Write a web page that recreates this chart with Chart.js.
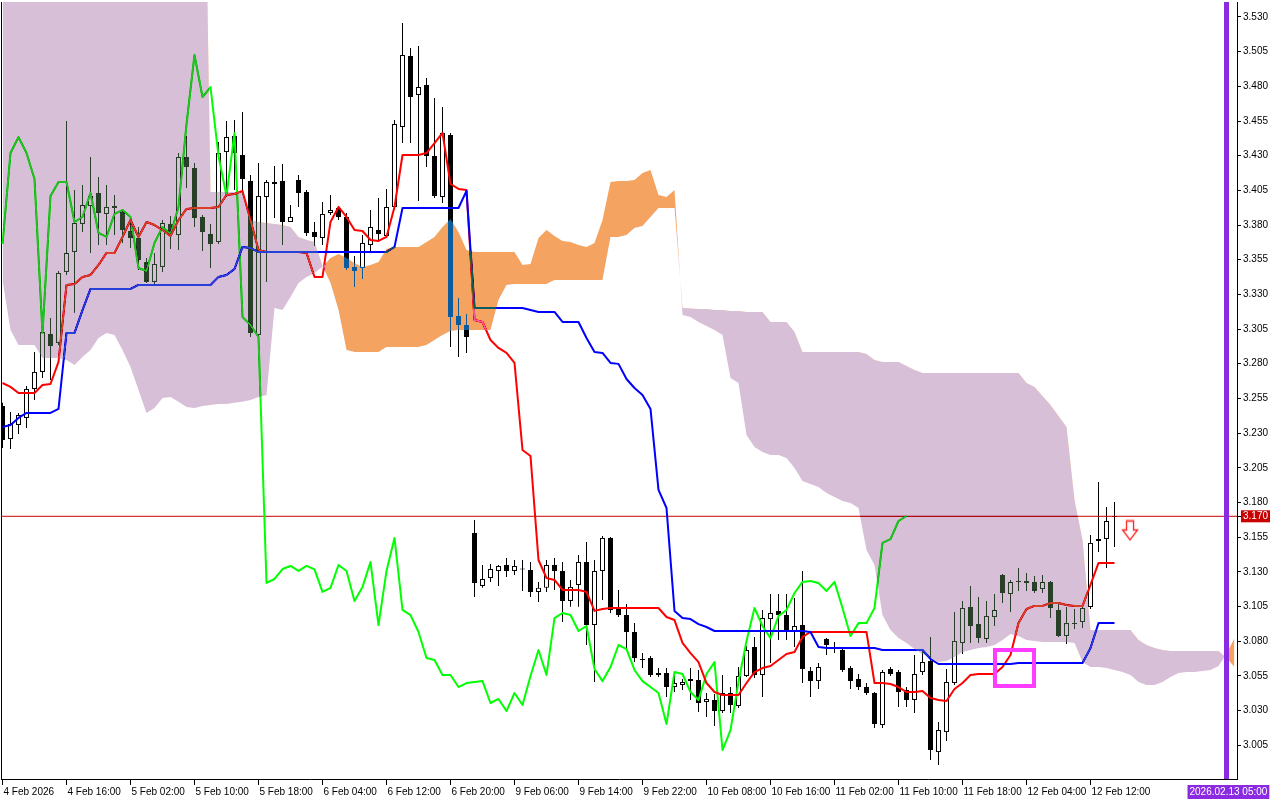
<!DOCTYPE html>
<html lang="en">
<head>
<meta charset="UTF-8">
<title>Ichimoku H1</title>
<script src="https://cdn.jsdelivr.net/npm/chart.js@4.4.1/dist/chart.umd.min.js"></script>
<style>
  html, body { margin: 0; padding: 0; background: #fff; }
  #wrap { width: 1280px; height: 800px; }
</style>
</head>
<body>
<div id="wrap"><canvas id="grafico" width="1280" height="800"></canvas></div>
<script>
// H1 candles, bar index 0 = 4 Feb 2026 08:00
const open = [3.2496,3.2257,3.2358,3.2409,3.2618,3.2741,3.3014,3.2950,3.3462,3.3606,
  3.3808,3.3937,3.4031,3.3880,3.3937,3.3894,3.3757,3.3707,3.3533,3.3390,
  3.3498,3.3808,3.3728,3.4290,3.4211,3.3858,3.3735,3.3678,3.4326,3.4442,
  3.4305,3.4118,3.3007,3.4002,3.4096,3.4118,3.3822,3.4125,3.4038,3.3750,
  3.3707,3.3887,3.3923,3.3858,3.3498,3.3490,3.3656,3.3764,3.3721,3.3930,
  3.4507,3.5019,3.4738,3.4810,3.4298,3.4002,3.4449,3.3144,3.3079,3.1580,
  3.1198,3.1255,3.1306,3.1349,3.1306,3.1320,3.1313,3.1155,3.1184,3.1349,
  3.1306,3.1090,3.1205,3.1371,3.0916,3.1306,3.1544,3.1032,3.0988,3.0866,
  3.0671,3.0678,3.0570,3.0570,3.0469,3.0484,3.0527,3.0520,3.0361,3.0376,
  3.0296,3.0426,3.0332,3.0549,3.0758,3.0556,3.0959,3.1018,3.0988,3.0873,
  3.0916,3.0585,3.0512,3.0815,3.0758,3.0736,3.0606,3.0527,3.0469,3.0426,
  3.0195,3.0599,3.0577,3.0448,3.0376,3.0577,3.0657,3.0000,3.0144,3.0498,
  3.0787,3.1046,3.0923,3.0815,3.0974,3.1277,3.1140,3.1227,3.1234,3.1227,
  3.1176,3.1227,3.1025,3.0837,3.0923,3.0938,3.1046,3.1522,3.1536,3.1695];
const high = [3.2518,3.2452,3.2445,3.2640,3.2885,3.3043,3.3130,3.3469,3.4550,3.4053,
  3.4089,3.4291,3.4146,3.4089,3.4017,3.3908,3.3851,3.3786,3.3562,3.3599,
  3.3836,3.3865,3.4319,3.4442,3.4247,3.3872,3.3808,3.4398,3.4550,3.4557,
  3.4615,3.4161,3.4247,3.4125,3.4226,3.4240,3.3944,3.4161,3.4053,3.3822,
  3.3966,3.4017,3.3937,3.3887,3.3577,3.3728,3.3908,3.3995,3.4060,3.4557,
  3.5257,3.5077,3.5091,3.4860,3.4716,3.4651,3.4464,3.3274,3.3159,3.1673,
  3.1349,3.1356,3.1349,3.1400,3.1385,3.1385,3.1371,3.1227,3.1385,3.1400,
  3.1371,3.1241,3.1421,3.1515,3.1385,3.1558,3.1551,3.1169,3.1068,3.0930,
  3.0714,3.0693,3.0606,3.0606,3.0577,3.0527,3.0606,3.0592,3.0426,3.0419,
  3.0556,3.0469,3.0613,3.0765,3.0830,3.1025,3.1140,3.1140,3.1140,3.1111,
  3.1306,3.0613,3.0642,3.0822,3.0794,3.0758,3.0621,3.0563,3.0498,3.0433,
  3.0592,3.0613,3.0592,3.0469,3.0700,3.0736,3.0830,3.0217,3.0599,3.1010,
  3.1090,3.1198,3.1118,3.1090,3.1140,3.1284,3.1241,3.1327,3.1291,3.1270,
  3.1277,3.1234,3.1083,3.1046,3.1032,3.1054,3.1565,3.1947,3.1767,3.1803];
const low = [3.2192,3.2185,3.2293,3.2337,3.2539,3.2697,3.2683,3.2935,3.3440,3.3170,
  3.3750,3.3599,3.3656,3.3656,3.3728,3.3671,3.3634,3.3476,3.3382,3.3375,
  3.3462,3.3627,3.3620,3.4067,3.3786,3.3613,3.3490,3.3663,3.4038,3.4053,
  3.4017,3.2993,3.2986,3.3390,3.3851,3.3656,3.3822,3.3930,3.3721,3.3649,
  3.3656,3.3872,3.3836,3.3476,3.3353,3.3411,3.3613,3.3678,3.3707,3.3908,
  3.4391,3.4391,3.3974,3.4218,3.3995,3.3959,3.2921,3.2849,3.2878,3.1119,
  3.1184,3.1227,3.1198,3.1263,3.1277,3.1162,3.1119,3.1083,3.1155,3.1169,
  3.0938,3.1047,3.1047,3.0772,3.0505,3.1097,3.1003,3.0974,3.0736,3.0649,
  3.0606,3.0541,3.0541,3.0397,3.0433,3.0448,3.0376,3.0289,3.0253,3.0188,
  3.0282,3.0282,3.0318,3.0542,3.0534,3.0397,3.0642,3.0808,3.0808,3.0758,
  3.0498,3.0397,3.0455,3.0700,3.0714,3.0577,3.0455,3.0448,3.0412,3.0173,
  3.0173,3.0549,3.0325,3.0325,3.0282,3.0556,2.9943,2.9907,3.0080,3.0484,
  3.0707,3.0787,3.0787,3.0787,3.0909,3.1075,3.1010,3.1162,3.1162,3.1147,
  3.1147,3.0966,3.0830,3.0779,3.0887,3.0894,3.1032,3.1443,3.1327,3.1479];
const close = [3.2250,3.2365,3.2430,3.2618,3.2741,3.3029,3.2928,3.3454,3.3599,3.3815,
  3.3945,3.4010,3.3887,3.3930,3.3923,3.3764,3.3707,3.3548,3.3390,3.3519,
  3.3815,3.3750,3.4290,3.4218,3.3851,3.3750,3.3663,3.4319,3.4434,3.4319,
  3.4132,3.3021,3.4010,3.4110,3.4110,3.3822,3.3858,3.4031,3.3743,3.3714,
  3.3880,3.3908,3.3858,3.3490,3.3469,3.3671,3.3786,3.3735,3.3930,3.4528,
  3.5026,3.4723,3.4795,3.4298,3.4010,3.4464,3.3137,3.3079,3.2993,3.1220,
  3.1248,3.1320,3.1342,3.1306,3.1342,3.1317,3.1155,3.1184,3.1349,3.1306,
  3.1090,3.1191,3.1371,3.0916,3.1306,3.1544,3.1025,3.0988,3.0866,3.0678,
  3.0664,3.0556,3.0556,3.0469,3.0498,3.0505,3.0512,3.0354,3.0383,3.0296,
  3.0426,3.0340,3.0549,3.0736,3.0556,3.0966,3.1003,3.0988,3.0873,3.0909,
  3.0599,3.0512,3.0613,3.0772,3.0743,3.0592,3.0512,3.0469,3.0426,3.0202,
  3.0577,3.0563,3.0433,3.0376,3.0563,3.0649,3.0015,3.0159,3.0505,3.0801,
  3.1039,3.0909,3.0822,3.0981,3.1025,3.1147,3.1227,3.1234,3.1219,3.1162,
  3.1227,3.1039,3.0837,3.0930,3.0930,3.1039,3.1508,3.1536,3.1666,3.1702];

// ichimoku lines
const tenkan = [3.2661,3.2633,3.2589,3.2589,3.2589,3.2647,3.2654,3.2813,3.3368,3.3375,
  3.3426,3.3440,3.3512,3.3599,3.3599,3.3714,3.3836,3.3714,3.3822,3.3800,
  3.3764,3.3721,3.3836,3.3916,3.3923,3.3923,3.3923,3.3930,3.4017,3.4024,
  3.4046,3.3836,3.3620,3.3606,3.3606,3.3606,3.3606,3.3606,3.3599,3.3426,
  3.3426,3.3822,3.3930,3.3858,3.3764,3.3757,3.3692,3.3685,3.3714,3.3930,
  3.4305,3.4305,3.4305,3.4319,3.4391,3.4464,3.4096,3.4060,3.4053,3.3115,
  3.3101,3.2971,3.2914,3.2878,3.2806,3.2178,3.2135,3.1385,3.1255,3.1241,
  3.1169,3.1169,3.1169,3.1155,3.1018,3.1032,3.1039,3.1039,3.1039,3.1039,
  3.1039,3.1039,3.1039,3.0974,3.0952,3.0787,3.0714,3.0649,3.0498,3.0433,
  3.0412,3.0412,3.0412,3.0498,3.0577,3.0606,3.0621,3.0664,3.0707,3.0721,
  3.0830,3.0866,3.0866,3.0866,3.0866,3.0866,3.0866,3.0866,3.0866,3.0498,
  3.0498,3.0491,3.0469,3.0433,3.0433,3.0441,3.0390,3.0376,3.0368,3.0455,
  3.0498,3.0556,3.0563,3.0563,3.0563,3.0613,3.0700,3.0930,3.1032,3.1054,
  3.1054,3.1075,3.1075,3.1061,3.1054,3.1054,3.1205,3.1364,3.1364,3.1364];
const kijun = [3.2344,3.2358,3.2409,3.2445,3.2445,3.2445,3.2445,3.2474,3.3022,3.3022,
  3.3187,3.3339,3.3339,3.3339,3.3339,3.3339,3.3339,3.3368,3.3368,3.3368,
  3.3368,3.3368,3.3368,3.3368,3.3368,3.3368,3.3368,3.3426,3.3440,3.3483,
  3.3642,3.3634,3.3606,3.3606,3.3606,3.3606,3.3606,3.3606,3.3606,3.3606,
  3.3606,3.3606,3.3606,3.3606,3.3606,3.3606,3.3606,3.3606,3.3606,3.3642,
  3.3923,3.3923,3.3923,3.3923,3.3923,3.3923,3.3923,3.3923,3.4046,3.3202,
  3.3202,3.3202,3.3202,3.3202,3.3202,3.3202,3.3187,3.3173,3.3173,3.3173,
  3.3101,3.3101,3.3101,3.2986,3.2885,3.2878,3.2806,3.2799,3.2690,3.2625,
  3.2575,3.2474,3.1890,3.1760,3.1018,3.0966,3.0959,3.0923,3.0902,3.0873,
  3.0873,3.0873,3.0873,3.0873,3.0873,3.0873,3.0873,3.0873,3.0873,3.0873,
  3.0873,3.0866,3.0758,3.0750,3.0750,3.0750,3.0750,3.0750,3.0750,3.0750,
  3.0736,3.0736,3.0736,3.0736,3.0736,3.0736,3.0671,3.0635,3.0635,3.0635,
  3.0635,3.0635,3.0635,3.0635,3.0635,3.0635,3.0635,3.0642,3.0642,3.0642,
  3.0642,3.0642,3.0642,3.0642,3.0642,3.0642,3.0750,3.0930,3.0930,3.0930];
const chikou = [3.3663,3.4319,3.4434,3.4319,3.4132,3.3021,3.4010,3.4110,3.4110,3.3822,
  3.3858,3.4031,3.3743,3.3714,3.3880,3.3908,3.3858,3.3490,3.3469,3.3671,
  3.3786,3.3735,3.3930,3.4528,3.5026,3.4723,3.4795,3.4298,3.4010,3.4464,
  3.3137,3.3079,3.2993,3.1220,3.1248,3.1320,3.1342,3.1306,3.1342,3.1317,
  3.1155,3.1184,3.1349,3.1306,3.1090,3.1191,3.1371,3.0916,3.1306,3.1544,
  3.1025,3.0988,3.0866,3.0678,3.0664,3.0556,3.0556,3.0469,3.0498,3.0505,
  3.0512,3.0354,3.0383,3.0296,3.0426,3.0340,3.0549,3.0736,3.0556,3.0966,
  3.1003,3.0988,3.0873,3.0909,3.0599,3.0512,3.0613,3.0772,3.0743,3.0592,
  3.0512,3.0469,3.0426,3.0202,3.0577,3.0563,3.0433,3.0376,3.0563,3.0649,
  3.0015,3.0159,3.0505,3.0801,3.1039,3.0909,3.0822,3.0981,3.1025,3.1147,
  3.1227,3.1234,3.1219,3.1162,3.1227,3.1039,3.0837,3.0930,3.0930,3.1039,
  3.1508,3.1536,3.1666,3.1702];
const spanA = [3.3404,3.3043,3.2935,3.2935,3.2935,3.2841,3.2841,3.2841,3.2827,3.2791,
  3.2849,3.2899,3.2986,3.3022,3.3007,3.2899,3.2777,3.2611,3.2445,3.2481,
  3.2553,3.2561,3.2525,3.2488,3.2481,3.2496,3.2503,3.2510,3.2510,3.2518,
  3.2525,3.2539,3.2561,3.2575,3.3202,3.3187,3.3281,3.3382,3.3426,3.3454,
  3.3500,3.3562,3.3591,3.3562,3.3526,3.3498,3.3512,3.3533,3.3627,3.3642,
  3.3642,3.3642,3.3642,3.3678,3.3714,3.3786,3.3843,3.3750,3.3620,3.3606,
  3.3606,3.3606,3.3606,3.3606,3.3606,3.3512,3.3519,3.3706,3.3764,3.3721,
  3.3685,3.3678,3.3656,3.3642,3.3671,3.3836,3.4110,3.4118,3.4118,3.4125,
  3.4175,3.4197,3.4017,3.4002,3.4053,3.3151,3.3137,3.3101,3.3072,3.3043,
  3.3007,3.2697,3.2661,3.2286,3.2200,3.2164,3.2142,3.2142,3.2120,3.2048,
  3.1955,3.1933,3.1912,3.1868,3.1840,3.1811,3.1796,3.1760,3.1457,3.1349,
  3.0988,3.0880,3.0823,3.0786,3.0743,3.0707,3.0678,3.0649,3.0657,3.0685,
  3.0721,3.0736,3.0750,3.0757,3.0772,3.0808,3.0851,3.0837,3.0808,3.0801,
  3.0794,3.0794,3.0794,3.0794,3.0786,3.0649,3.0613,3.0613,3.0606,3.0592,
  3.0577,3.0556,3.0505,3.0484,3.0484,3.0505,3.0541,3.0570,3.0577,3.0577,
  3.0585,3.0592,3.0621,3.0707,3.0823];
const spanB = [3.7617,3.7617,3.7617,3.7617,3.7617,3.7617,3.7617,3.7617,3.7617,3.7617,
  3.7617,3.7617,3.7617,3.7617,3.7617,3.7617,3.7617,3.7617,3.7617,3.7617,
  3.7617,3.7617,3.7617,3.7617,3.7617,3.7617,3.4038,3.4038,3.4038,3.4038,
  3.4038,3.3836,3.3822,3.3815,3.3808,3.3800,3.3786,3.3714,3.3692,3.3678,
  3.3505,3.3382,3.3187,3.2899,3.2885,3.2885,3.2885,3.2885,3.2921,3.2921,
  3.2921,3.2921,3.2921,3.2935,3.2971,3.3007,3.3036,3.3043,3.3043,3.3043,
  3.3043,3.3043,3.3260,3.3368,3.3375,3.3375,3.3375,3.3375,3.3375,3.3404,
  3.3404,3.3404,3.3404,3.3404,3.3404,3.3404,3.3714,3.3714,3.3728,3.3779,
  3.3793,3.3858,3.3923,3.3923,3.3923,3.3202,3.3198,3.3195,3.3195,3.3187,
  3.3187,3.3180,3.3180,3.3173,3.3173,3.3173,3.3101,3.3101,3.3101,3.3029,
  3.2885,3.2885,3.2885,3.2885,3.2885,3.2885,3.2885,3.2885,3.2871,3.2827,
  3.2813,3.2813,3.2813,3.2784,3.2755,3.2733,3.2733,3.2733,3.2733,3.2733,
  3.2733,3.2733,3.2733,3.2733,3.2733,3.2733,3.2733,3.2733,3.2661,3.2633,
  3.2568,3.2503,3.2424,3.2344,3.1818,3.1529,3.0880,3.0880,3.0880,3.0880,
  3.0880,3.0880,3.0808,3.0772,3.0750,3.0736,3.0729,3.0729,3.0729,3.0729,
  3.0729,3.0729,3.0729,3.0678,3.0613];

// axis labels
const tickBars = [0, 8, 16, 24, 32, 40, 48, 56, 64, 72, 80, 88, 96, 104, 112, 120, 128, 136];
const tickLabels = ['4 Feb 2026', '4 Feb 16:00', '5 Feb 02:00', '5 Feb 10:00', '5 Feb 18:00',
  '6 Feb 04:00', '6 Feb 12:00', '6 Feb 20:00', '9 Feb 06:00', '9 Feb 14:00', '9 Feb 22:00',
  '10 Feb 08:00', '10 Feb 16:00', '11 Feb 02:00', '11 Feb 10:00', '11 Feb 18:00',
  '12 Feb 04:00', '12 Feb 12:00'];
const priceTicks = [3.005, 3.030, 3.055, 3.080, 3.105, 3.130, 3.155, 3.180, 3.205, 3.230, 3.255,
  3.280, 3.305, 3.330, 3.355, 3.380, 3.405, 3.430, 3.455, 3.480, 3.505, 3.530];
const bidPrice = 3.170;
const dateTagBar = 153;
const dateTagLabel = '2026.02.13 05:00';

// drawn objects (in bar / price units)
const boxBars = [124.06, 128.94];
const boxPrices = [3.0477, 3.0736];
const arrowAt = [140.94, 3.1598];

const xMin = -0.1875, xMax = 154.3125;
const yMin = 2.9806, yMax = 3.5408;
const fonte = { family: 'Liberation Sans', size: 10 };

const asPoints = arr => arr.map((v, i) => ({ x: i, y: v }));

// x ticks: the date tag is left-aligned, so shift it half its width
const xTickVals = tickBars.concat([dateTagBar - 38 / 8]);
const xTickText = tickLabels.concat([dateTagLabel]);
const lastX = xTickText.length - 1;
const isBid = c => c.tick && Math.abs(c.tick.value - bidPrice) < 1e-6;

// no extra room for overhanging labels: the plot keeps its exact frame
const noPad = s => { s.paddingLeft = 0; s.paddingRight = 0; s.paddingTop = 0; s.paddingBottom = 0; };

function setaBaixo() {
    const c = document.createElement('canvas');
    c.width = 18; c.height = 22;
    const g = c.getContext('2d');
    g.beginPath();
    g.moveTo(5.5, 1.5); g.lineTo(12.5, 1.5); g.lineTo(12.5, 10.5); g.lineTo(16.5, 10.5);
    g.lineTo(9, 20.5); g.lineTo(1.5, 10.5); g.lineTo(5.5, 10.5); g.closePath();
    g.fillStyle = '#ffffff'; g.fill();
    g.strokeStyle = '#ff2020'; g.lineWidth = 1.3; g.stroke();
    return c;
}

// the kumo is painted in "difference" mode, like the terminal does (candles show through)
const kumoBlend = {
    id: 'kumoBlend',
    beforeDraw(chart) {
        const c = chart.ctx;
        c.save(); c.fillStyle = '#ffffff'; c.fillRect(0, 0, chart.width, chart.height); c.restore();
    },
    afterDatasetDraw(chart, args) {
        const lbl = chart.data.datasets[args.index].label;
        if (lbl === 'Senkou B') {
            chart.ctx.save();
            chart.ctx.globalCompositeOperation = 'difference';
        } else if (lbl === 'Senkou A') {
            chart.ctx.restore();
        }
    }
};

const linha = (label, data, color, width, order) => ({
    type: 'line', label, data, borderColor: color, borderWidth: width,
    pointRadius: 0, borderJoinStyle: 'round', order
});

new Chart(document.getElementById('grafico'), {
    type: 'bar',
    data: {
        datasets: [
            { type: 'bar', label: 'wick', data: low.map((l, i) => ({ x: i, y: [l, high[i]] })),
              backgroundColor: '#000000', borderWidth: 0, barThickness: 1, grouped: false,
              inflateAmount: 0, order: 10 },
            { type: 'bar', label: 'body', data: open.map((o, i) => ({ x: i, y: [o, close[i]] })),
              backgroundColor: close.map((c, i) => c >= open[i] ? '#ffffff' : '#000000'),
              borderColor: '#000000', borderWidth: 1, borderSkipped: false, barThickness: 5,
              grouped: false, inflateAmount: 0, minBarLength: 1, order: 9 },
            linha('bid', [{ x: xMin, y: bidPrice }, { x: xMax, y: bidPrice }], '#c80000', 1, 8),
            linha('Chikou', asPoints(chikou), '#00ff00', 2, 7),
            linha('Tenkan', asPoints(tenkan), '#ff0000', 2, 6),
            linha('Kijun', asPoints(kijun), '#0000ff', 2, 5),
            { type: 'line', label: 'Senkou B', data: asPoints(spanB), borderColor: 'rgba(0,0,0,0)',
              borderWidth: 0, pointRadius: 0, order: 3 },
            { type: 'line', label: 'Senkou A', data: asPoints(spanA), borderColor: 'rgba(0,0,0,0)',
              borderWidth: 0, pointRadius: 0, order: 2,
              fill: { target: 6, above: '#0b5b9f', below: '#274027' } },
            { type: 'line', label: 'box', data: [
                { x: boxBars[0], y: boxPrices[1] }, { x: boxBars[1], y: boxPrices[1] },
                { x: boxBars[1], y: boxPrices[0] }, { x: boxBars[0], y: boxPrices[0] },
                { x: boxBars[0], y: boxPrices[1] }],
              borderColor: '#ff3cff', borderWidth: 4, pointRadius: 0, borderJoinStyle: 'miter',
              borderCapStyle: 'square', borderDash: [3000, 0], order: 1 },
            { type: 'line', label: 'arrow', data: [{ x: arrowAt[0], y: arrowAt[1] }], showLine: false,
              pointStyle: setaBaixo(), pointRadius: 5, order: 1 },
            linha('shift', [{ x: dateTagBar, y: yMin }, { x: dateTagBar, y: yMax }], '#8a2be2', 5, 0)
        ]
    },
    options: {
        responsive: false,
        devicePixelRatio: 1,
        animation: false,
        events: [],
        layout: { autoPadding: false, padding: { top: 2, left: 0, right: 0, bottom: 0 } },
        plugins: { legend: { display: false }, tooltip: { enabled: false } },
        scales: {
            x: {
                type: 'linear', min: xMin, max: xMax, offset: false,
                afterBuildTicks: s => { s.ticks = xTickVals.map(v => ({ value: v })); },
                afterFit: s => { s.height = 21; noPad(s); },
                ticks: {
                    autoSkip: false, maxRotation: 0, minRotation: 0, align: 'start',
                    padding: 1, labelOffset: 1, font: fonte,
                    callback: (v, i) => xTickText[i],
                    color: c => c.index === lastX ? '#ffffff' : '#000000',
                    showLabelBackdrop: c => c.index === lastX,
                    backdropColor: '#8a2be2',
                    backdropPadding: { top: 1, bottom: 1, left: 2, right: 2 }
                },
                grid: {
                    drawOnChartArea: false, drawTicks: true, tickLength: 6, offset: false,
                    tickColor: c => c.index === lastX ? 'rgba(0,0,0,0)' : '#000000'
                },
                border: { display: true, color: '#000000', width: 1 }
            },
            y: {
                type: 'linear', position: 'right', min: yMin, max: yMax,
                afterBuildTicks: s => {
                    s.ticks = priceTicks.concat([bidPrice]).sort((a, b) => a - b).map(v => ({ value: v }));
                },
                afterFit: s => { s.width = 43; noPad(s); },
                ticks: {
                    autoSkip: false, padding: 2, font: fonte,
                    callback: v => v.toFixed(3),
                    color: c => isBid(c) ? '#ffffff' : '#000000',
                    showLabelBackdrop: c => isBid(c),
                    backdropColor: '#c80000',
                    backdropPadding: { top: 0, bottom: 0, left: 2, right: 2 }
                },
                grid: { drawOnChartArea: false, drawTicks: true, tickLength: 4, tickColor: '#000000' },
                border: { display: true, color: '#000000', width: 1 }
            },
            yL: {
                type: 'linear', position: 'left', min: yMin, max: yMax,
                ticks: { display: false }, grid: { display: false },
                border: { display: true, color: '#000000', width: 1 },
                afterFit: s => { s.width = 1; noPad(s); }
            }
        }
    },
    plugins: [kumoBlend]
});
</script>
</body>
</html>
